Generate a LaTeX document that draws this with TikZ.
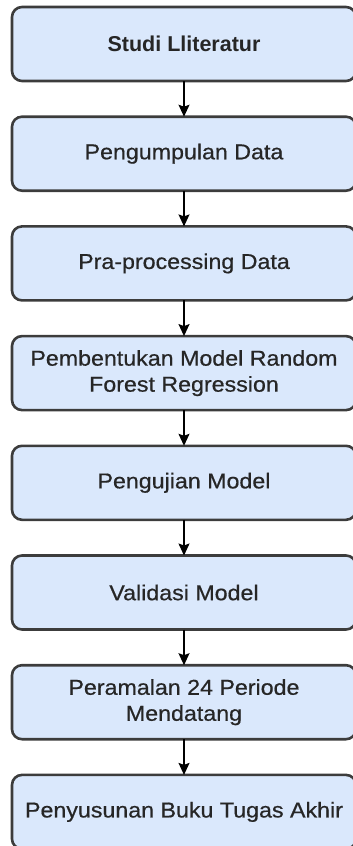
\documentclass[tikz,border=0pt]{standalone}
\usepackage{fontspec}
\setmainfont{Liberation Sans}[UprightFeatures={FakeStretch=1.08,FakeBold=0.6}]
\usetikzlibrary{positioning,arrows.meta}
\definecolor{boxfill}{HTML}{DAE8FC}
\definecolor{boxline}{HTML}{3C3C3C}
\definecolor{boxtext}{HTML}{262626}
\tikzset{
  stage/.style={draw=boxline, fill=boxfill, line width=2.6pt, rounded corners=10pt,
    minimum width=344pt, minimum height=74pt, outer sep=0pt, align=center,
    text=boxtext, font=\fontsize{21.5}{26}\selectfont},
  flow/.style={-{Stealth[length=12pt,width=11pt,inset=2pt]}, line width=1.4pt}
}
\begin{document}
\begin{tikzpicture}[x=1pt, y=1pt, node distance=35.7pt]
 \useasboundingbox (0,0) rectangle (353,-846);
 \node[stage, font=\bfseries\fontsize{21.5}{26}\selectfont] (lit) at (184,-44) {Studi Lliteratur};
 \node[stage, below=of lit] (data) {Pengumpulan Data};
 \node[stage, below=of data] (prep) {Pra-processing Data};
 \node[stage, below=of prep] (rf) {Pembentukan Model Random\\Forest Regression};
 \node[stage, below=of rf] (test) {Pengujian Model};
 \node[stage, below=of test] (valid) {Validasi Model};
 \node[stage, below=of valid] (fore) {Peramalan 24 Periode\\Mendatang};
 \node[stage, below=of fore] (book) {Penyusunan Buku Tugas Akhir};
 \foreach \a/\b in {lit/data, data/prep, prep/rf, rf/test, test/valid, valid/fore, fore/book}
  \draw[flow] (\a) -- (\b);
\end{tikzpicture}
\end{document}
